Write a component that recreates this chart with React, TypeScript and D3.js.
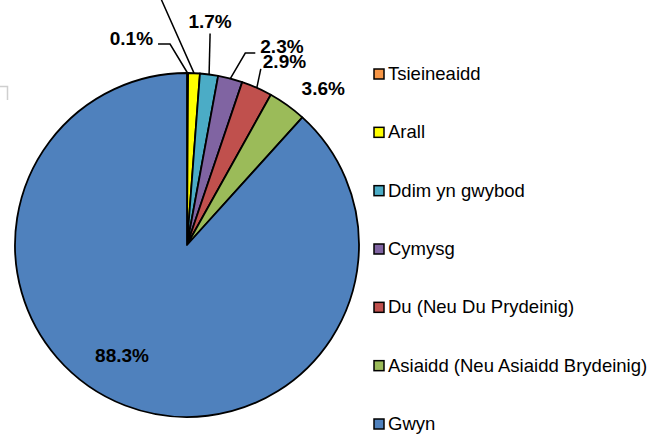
import React from "react";
import * as d3 from "d3";

// data, in pie order (clockwise from 12 o'clock)
const categories = [
  "Tsieineaidd",
  "Arall",
  "Ddim yn gwybod",
  "Cymysg",
  "Du (Neu Du Prydeinig)",
  "Asiaidd (Neu Asiaidd Brydeinig)",
  "Gwyn",
];
const values = [0.1, 1.1, 1.7, 2.3, 2.9, 3.6, 88.3];
const valueLabels = ["0.1%", "1.1%", "1.7%", "2.3%", "2.9%", "3.6%", "88.3%"];

const colors = ["#F79646", "#FFFF00", "#4BACC6", "#8064A2", "#C0504D", "#9BBB59", "#4F81BD"];

// label placement, relative to the slice's outer edge point
// ex/ey: elbow offset, h: horizontal run, tx/ty: text offset from the run end
const labelPos = [
  { ex: -17.5, ey: -29, h: -12, tx: -5, ty: 1, anchor: "end", leader: true },
  { ex: -40, ey: -90, h: -10, tx: -4, ty: 1, anchor: "end", leader: true },
  { ex: 1, ey: -41, h: 0, tx: 0, ty: -5, anchor: "middle", leader: true },
  { ex: 15, ey: -25.5, h: 10, tx: 5, ty: 0, anchor: "start", leader: true },
  { ex: 4, ey: -19, h: 0, tx: 2, ty: -1, anchor: "start", leader: true },
  { ex: 36, ey: -10, h: 0, tx: 0, ty: 0, anchor: "middle", leader: false },
];

const W = 648;
const H = 435;
const cx = 187;
const cy = 245;
const R = 172;

export default function App() {
  const pie = d3
    .pie<number>()
    .sort(null)
    .value((d) => d);
  const arcs = pie(values);
  const arc = d3.arc<d3.PieArcDatum<number>>().innerRadius(0).outerRadius(R);

  const edge = (a: d3.PieArcDatum<number>) => {
    const m = (a.startAngle + a.endAngle) / 2;
    return [Math.sin(m) * R, -Math.cos(m) * R];
  };

  const legendY = d3
    .scalePoint<string>()
    .domain(categories)
    .range([80, 430]);

  return (
    <svg
      width={W}
      height={H}
      style={{ position: "absolute", left: 0, top: 0, background: "#fff" }}
      fontFamily="'Liberation Sans', Arial, sans-serif"
    >
      <path d="M0,86.5H7.5V100" fill="none" stroke="#cfcfcf" strokeWidth={1.5} />
      <g transform={`translate(${cx},${cy})`}>
        {arcs.map((a, i) => (
          <path key={i} d={arc(a) || ""} fill={colors[i]} stroke="#000" strokeWidth={1.8} strokeLinejoin="round" />
        ))}
        {arcs.slice(0, 6).map((a, i) => {
          const [x0, y0] = edge(a);
          const p = labelPos[i];
          const x1 = x0 + p.ex;
          const y1 = y0 + p.ey;
          const x2 = x1 + p.h;
          return (
            <g key={"l" + i}>
              {p.leader && (
                <polyline
                  points={`${x0},${y0} ${x1},${y1} ${x2},${y1}`}
                  fill="none"
                  stroke="#000"
                  strokeWidth={1.5}
                />
              )}
              <text
                x={x2 + p.tx}
                y={y1 + p.ty}
                textAnchor={p.anchor as any}
                fontSize={19}
                fontWeight="bold"
                fill="#000"
              >
                {valueLabels[i]}
              </text>
            </g>
          );
        })}
        <text x={-65} y={117} textAnchor="middle" fontSize={19} fontWeight="bold" fill="#000">
          {valueLabels[6]}
        </text>
      </g>
      <g>
        {categories.map((c, i) => {
          const y = legendY(c) as number;
          return (
            <g key={c}>
              <rect x={374} y={y - 11} width={10} height={10} fill={colors[i]} stroke="#000" strokeWidth={1.5} />
              <text x={388} y={y} fontSize={18.5} fill="#000">
                {c}
              </text>
            </g>
          );
        })}
      </g>
    </svg>
  );
}
